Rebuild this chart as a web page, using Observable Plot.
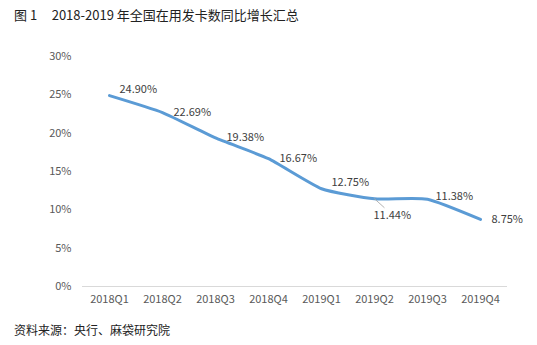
<!DOCTYPE html>
<html>
<head>
<meta charset="utf-8">
<script src="https://cdn.jsdelivr.net/npm/d3@7"></script>
<script src="https://cdn.jsdelivr.net/npm/@observablehq/plot@0.6"></script>
<style>
  body { margin: 0; background: #fff; font-family: "Noto Sans CJK SC", "Noto Sans", sans-serif; }
  #wrap { position: relative; width: 537px; height: 345px; overflow: hidden; }
  #title { position: absolute; left: 14px; top: 6px; font-size: 13px; color: #222; white-space: pre; line-height: 18px; }
  #chart { position: absolute; left: 0; top: 30px; }
  #source { position: absolute; left: 14px; top: 321px; font-size: 12px; color: #222; line-height: 18px; }
</style>
</head>
<body>
<div id="wrap">
  <div id="title">图 1     2018-2019 年全国在用发卡数同比增长汇总</div>
  <div id="chart"></div>
  <div id="source">资料来源：央行、麻袋研究院</div>
</div>
<script>
const quarters = ["2018Q1","2018Q2","2018Q3","2018Q4","2019Q1","2019Q2","2019Q3","2019Q4"];
const growth = [24.90, 22.69, 19.38, 16.67, 12.75, 11.44, 11.38, 8.75];
const yTicks = [0, 5, 10, 15, 20, 25, 30];

const data = quarters.map((q, i) => ({quarter: q, value: growth[i]}));
const lbl = d => d.value.toFixed(2) + "%";
const upper = new Set(["2018Q1", "2019Q1"]);
const below = new Set(["2019Q2"]);
const slight = new Set(["2019Q3"]);

const plot = Plot.plot({
  width: 537,
  height: 290,
  marginLeft: 82,
  marginRight: 30,
  marginTop: 26,
  marginBottom: 34,
  style: {fontFamily: "'Noto Sans CJK SC', 'Noto Sans', sans-serif", fontSize: "11px", color: "#595959", background: "#fff"},
  x: {type: "point", domain: quarters, padding: 0.5, label: null, tickSize: 0, tickPadding: 9},
  y: {domain: [0, 30], ticks: yTicks, tickFormat: d => d + "%", label: null, tickSize: 0, tickPadding: 11},
  marks: [
    Plot.ruleY([0], {stroke: "#d9d9d9", strokeWidth: 1}),
    Plot.line(data, {x: "quarter", y: "value", stroke: "#5b9bd5", strokeWidth: 3, curve: "cardinal", tension: 0.5, strokeLinecap: "round", strokeLinejoin: "round"}),
    Plot.vector(data.filter(d => below.has(d.quarter)), {
      x: "quarter", y: "value", length: 13, rotate: 132, anchor: "start",
      stroke: "#a6a6a6", strokeWidth: 0.8,
      shape: {draw(context, l) { context.moveTo(0, 0); context.lineTo(0, -l); }}
    }),
    Plot.text(data.filter(d => upper.has(d.quarter)), {x: "quarter", y: "value", text: lbl, textAnchor: "start", dx: 10, dy: -6, fill: "#404040", fontSize: 11}),
    Plot.text(data.filter(d => slight.has(d.quarter)), {x: "quarter", y: "value", text: lbl, textAnchor: "start", dx: 8, dy: -3, fill: "#404040", fontSize: 11}),
    Plot.text(data.filter(d => !upper.has(d.quarter) && !below.has(d.quarter) && !slight.has(d.quarter)), {x: "quarter", y: "value", text: lbl, textAnchor: "start", dx: 11, dy: 0, fill: "#404040", fontSize: 11}),
    Plot.text(data.filter(d => below.has(d.quarter)), {x: "quarter", y: "value", text: lbl, textAnchor: "start", dx: -1, dy: 17, fill: "#404040", fontSize: 11})
  ]
});
document.getElementById("chart").appendChild(plot);
</script>
</body>
</html>
